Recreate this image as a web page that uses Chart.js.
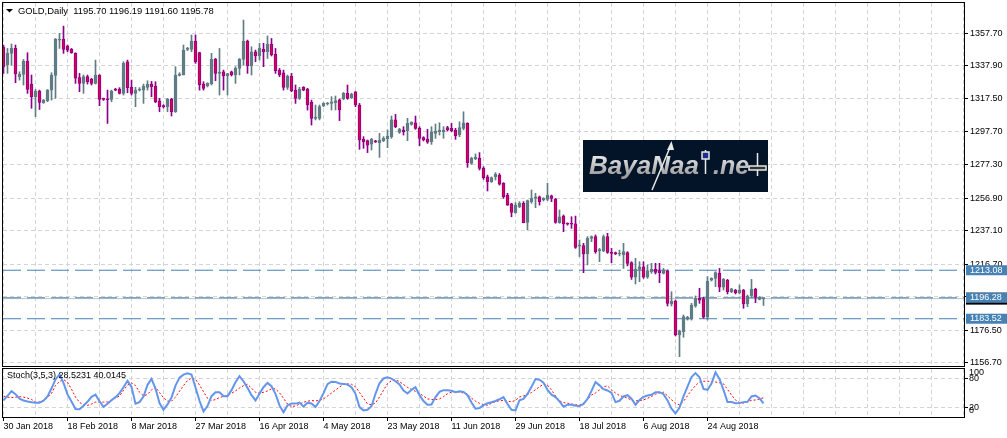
<!DOCTYPE html>
<html lang="en">

<head>
    <meta charset="UTF-8">
    <script src="https://cdn.jsdelivr.net/npm/chart.js"></script>
    <title>GOLD, Daily</title>
    <style>
        body {
            margin: 0;
            background: #fff;
        }

        .wrap {
            position: relative;
            width: 1007px;
            height: 438px;
        }

        #mainBox {
            position: absolute;
            left: 0;
            top: 0;
        }

        #stochBox {
            position: absolute;
            left: 0;
            top: 367px;
        }
    </style>
</head>

<body>
    <div class="wrap">
        <div id="mainBox"><canvas id="mainChart" width="1007" height="368"></canvas></div>
        <div id="stochBox"><canvas id="stochChart" width="1007" height="71"></canvas></div>
    </div>
    <script>
        // daily bars, first one is 30 Jan 2018
        const open = [
            1348.9, 1338.2, 1345.3, 1348.3, 1331.1, 1332.5, 1340.6, 1326.6, 1318.9, 1322.3,
            1315.2, 1316.4, 1322.9, 1331.9, 1353.4, 1354.0, 1349.8, 1347.7, 1345.3, 1330.5,
            1327.0, 1331.1, 1329.6, 1327.0, 1332.1, 1317.6, 1317.4, 1317.2, 1323.5, 1323.5,
            1320.9, 1340.2, 1324.6, 1320.9, 1322.9, 1322.9, 1324.6, 1326.6, 1325.4, 1316.4,
            1313.4, 1312.8, 1317.2, 1309.7, 1331.9, 1332.1, 1347.7, 1347.7, 1352.8, 1345.7,
            1326.6, 1325.4, 1326.6, 1341.8, 1333.1, 1334.1, 1331.5, 1334.1, 1332.1, 1336.1,
            1341.6, 1352.8, 1337.6, 1346.3, 1343.7, 1347.7, 1346.3, 1350.8, 1344.7, 1335.1,
            1333.5, 1324.6, 1331.5, 1322.9, 1317.9, 1324.6, 1323.5, 1315.4, 1305.7, 1305.7,
            1313.2, 1314.4, 1314.8, 1315.2, 1316.9, 1317.5, 1320.9, 1318.3, 1321.9, 1313.8,
            1292.9, 1292.1, 1290.0, 1291.7, 1290.9, 1292.1, 1293.3, 1294.5, 1304.7, 1297.1,
            1298.6, 1298.2, 1302.0, 1303.0, 1299.6, 1293.9, 1293.1, 1291.5, 1296.5, 1297.5,
            1297.5, 1300.0, 1299.6, 1298.6, 1295.5, 1299.6, 1302.6, 1278.2, 1281.1, 1281.3,
            1275.2, 1270.1, 1267.1, 1270.1, 1271.1, 1266.1, 1258.9, 1253.5, 1248.2, 1251.8,
            1253.9, 1242.3, 1254.9, 1256.9, 1257.9, 1255.9, 1256.3, 1258.5, 1256.5, 1242.1,
            1246.1, 1241.6, 1241.5, 1241.3, 1227.8, 1228.1, 1223.0, 1232.5, 1233.6, 1225.0,
            1225.0, 1233.6, 1224.0, 1223.8, 1223.0, 1222.4, 1223.8, 1217.7, 1208.8, 1213.6,
            1215.2, 1208.8, 1212.2, 1213.6, 1212.8, 1211.2, 1212.6, 1192.5, 1194.3, 1173.6,
            1175.6, 1183.2, 1183.4, 1191.3, 1196.0, 1195.6, 1184.4, 1207.1, 1208.1, 1211.2,
            1202.7, 1207.1, 1200.0, 1201.0, 1199.4, 1201.0, 1192.5, 1197.4, 1201.4, 1195.3,
            1195.70
        ];
        const high = [
            1350.4, 1348.3, 1351.0, 1350.4, 1334.1, 1341.6, 1345.7, 1332.1, 1323.3, 1322.9,
            1317.2, 1323.3, 1333.5, 1354.4, 1357.5, 1361.9, 1350.4, 1348.3, 1345.7, 1333.1,
            1332.1, 1332.1, 1330.1, 1341.2, 1332.3, 1318.0, 1322.9, 1322.9, 1324.0, 1324.4,
            1340.2, 1341.2, 1329.0, 1324.6, 1324.4, 1326.6, 1328.6, 1328.2, 1328.0, 1317.9,
            1314.0, 1317.9, 1317.9, 1337.2, 1333.5, 1350.4, 1349.0, 1356.5, 1356.5, 1346.0,
            1328.0, 1327.4, 1345.3, 1342.2, 1348.3, 1335.1, 1333.1, 1334.5, 1337.2, 1342.2,
            1365.6, 1353.4, 1349.3, 1347.3, 1351.4, 1351.4, 1355.9, 1354.4, 1348.3, 1336.1,
            1335.1, 1332.1, 1333.1, 1326.0, 1324.6, 1325.0, 1324.0, 1316.8, 1313.8, 1313.8,
            1315.2, 1315.4, 1318.9, 1319.3, 1317.5, 1321.5, 1326.0, 1321.0, 1322.0, 1314.8,
            1294.5, 1292.5, 1293.5, 1292.3, 1296.5, 1294.5, 1298.6, 1307.1, 1308.1, 1299.6,
            1300.6, 1305.7, 1303.6, 1307.1, 1300.6, 1294.5, 1299.0, 1300.6, 1302.2, 1303.0,
            1300.6, 1300.8, 1302.6, 1299.6, 1303.6, 1309.7, 1303.0, 1282.0, 1284.0, 1284.8,
            1276.2, 1271.1, 1270.0, 1272.6, 1272.0, 1266.5, 1260.0, 1253.9, 1254.3, 1254.9,
            1254.9, 1255.9, 1262.0, 1260.0, 1258.3, 1257.3, 1266.1, 1258.9, 1256.9, 1249.8,
            1246.8, 1242.0, 1245.7, 1246.1, 1231.5, 1229.5, 1233.6, 1234.0, 1234.6, 1226.4,
            1234.6, 1235.6, 1226.4, 1224.2, 1225.4, 1229.5, 1224.4, 1218.3, 1220.3, 1218.3,
            1218.3, 1216.3, 1217.3, 1217.3, 1217.3, 1214.2, 1213.2, 1200.0, 1194.9, 1176.6,
            1185.8, 1185.0, 1192.9, 1197.4, 1202.1, 1196.6, 1209.2, 1208.5, 1212.2, 1214.2,
            1208.1, 1207.5, 1202.1, 1201.4, 1204.1, 1201.4, 1198.0, 1207.5, 1202.1, 1197.0,
            1196.19
        ];
        const low = [
            1333.1, 1333.1, 1338.2, 1327.4, 1329.0, 1326.0, 1320.9, 1311.8, 1306.7, 1311.1,
            1314.8, 1315.8, 1316.8, 1317.9, 1348.3, 1345.3, 1346.3, 1345.3, 1327.0, 1321.9,
            1320.9, 1326.6, 1326.0, 1326.6, 1313.4, 1316.6, 1302.6, 1315.8, 1322.5, 1320.5,
            1319.9, 1321.3, 1319.9, 1312.8, 1322.3, 1314.8, 1322.9, 1318.9, 1315.2, 1309.7,
            1312.0, 1309.7, 1307.1, 1309.3, 1331.5, 1332.1, 1347.0, 1346.3, 1339.2, 1322.9,
            1322.9, 1324.8, 1326.0, 1328.6, 1319.9, 1322.9, 1319.9, 1331.5, 1327.0, 1332.1,
            1338.2, 1333.1, 1332.1, 1340.2, 1341.2, 1337.2, 1342.2, 1343.7, 1333.1, 1331.1,
            1322.9, 1323.3, 1321.9, 1314.8, 1317.2, 1322.5, 1310.7, 1301.6, 1304.7, 1304.7,
            1312.8, 1313.8, 1310.8, 1310.8, 1304.3, 1317.0, 1317.3, 1317.8, 1312.8, 1286.8,
            1287.4, 1284.8, 1286.4, 1290.9, 1281.9, 1291.5, 1287.8, 1293.5, 1300.0, 1296.5,
            1295.5, 1292.1, 1301.5, 1299.0, 1289.0, 1291.9, 1290.4, 1289.8, 1293.5, 1295.5,
            1293.5, 1298.0, 1297.5, 1292.9, 1294.5, 1298.6, 1275.8, 1277.6, 1280.5, 1274.2,
            1268.5, 1261.4, 1266.6, 1268.1, 1265.0, 1256.9, 1252.6, 1245.7, 1247.8, 1251.2,
            1242.0, 1237.6, 1253.9, 1251.2, 1252.8, 1255.3, 1255.5, 1254.9, 1241.7, 1241.7,
            1236.6, 1240.6, 1238.6, 1226.4, 1221.4, 1211.6, 1216.3, 1230.5, 1223.4, 1218.3,
            1224.4, 1223.4, 1217.7, 1222.6, 1221.8, 1214.2, 1215.7, 1207.5, 1204.7, 1206.1,
            1208.1, 1208.1, 1211.2, 1210.8, 1205.5, 1210.8, 1191.3, 1191.3, 1173.0, 1160.4,
            1172.2, 1182.7, 1182.7, 1190.5, 1192.9, 1183.8, 1182.7, 1206.5, 1203.1, 1200.0,
            1201.0, 1198.6, 1199.4, 1198.6, 1198.6, 1189.9, 1190.9, 1196.6, 1193.3, 1195.0,
            1191.60
        ];
        const close = [
            1337.0, 1345.3, 1348.3, 1332.7, 1332.7, 1340.6, 1323.3, 1318.9, 1322.3, 1315.4,
            1316.8, 1322.9, 1332.1, 1354.0, 1354.0, 1347.7, 1347.3, 1345.7, 1330.1, 1327.0,
            1331.1, 1328.0, 1327.0, 1332.1, 1317.2, 1317.2, 1317.0, 1322.3, 1322.9, 1320.9,
            1339.2, 1324.4, 1320.9, 1322.9, 1323.5, 1325.4, 1326.6, 1325.0, 1315.8, 1312.8,
            1312.8, 1317.2, 1309.7, 1332.1, 1332.7, 1347.3, 1348.3, 1352.8, 1340.2, 1326.0,
            1324.0, 1327.0, 1341.6, 1333.1, 1333.9, 1331.5, 1332.9, 1332.1, 1336.1, 1341.6,
            1352.8, 1337.8, 1346.3, 1343.7, 1348.3, 1346.3, 1350.8, 1344.3, 1334.7, 1332.1,
            1324.6, 1331.5, 1322.5, 1317.9, 1323.5, 1322.9, 1313.8, 1305.7, 1306.3, 1312.8,
            1314.8, 1314.8, 1315.8, 1316.5, 1310.8, 1320.9, 1317.9, 1320.3, 1313.8, 1292.5,
            1291.5, 1289.4, 1292.9, 1291.3, 1292.5, 1293.5, 1294.9, 1304.7, 1300.6, 1299.0,
            1297.5, 1302.6, 1303.2, 1299.6, 1293.5, 1292.5, 1291.1, 1297.5, 1297.9, 1298.6,
            1298.6, 1298.6, 1298.2, 1295.1, 1300.0, 1303.0, 1278.7, 1281.3, 1281.9, 1275.2,
            1269.5, 1267.1, 1269.5, 1271.5, 1265.6, 1257.9, 1252.8, 1248.4, 1252.8, 1253.9,
            1242.1, 1255.5, 1256.9, 1257.9, 1254.9, 1256.9, 1258.9, 1256.9, 1242.3, 1245.7,
            1241.3, 1241.1, 1241.1, 1227.0, 1228.5, 1223.0, 1232.5, 1233.6, 1224.4, 1225.4,
            1233.6, 1224.0, 1223.4, 1223.0, 1223.4, 1224.4, 1217.3, 1208.8, 1213.6, 1215.2,
            1208.8, 1212.8, 1213.6, 1211.8, 1211.6, 1213.2, 1192.9, 1194.3, 1173.6, 1176.2,
            1184.8, 1184.4, 1191.9, 1196.0, 1194.9, 1184.4, 1206.5, 1208.1, 1211.6, 1202.7,
            1207.5, 1200.0, 1201.7, 1199.4, 1201.0, 1192.5, 1197.4, 1201.4, 1196.6, 1196.6,
            1195.78
        ];

        // Stoch(3,5,3): main (%K) and signal (%D)
        const stochMain = [
            34.7, 44.1, 53.8, 47.6, 38.2, 34.5, 32.4, 30.7, 29.7, 29.9,
            33.8, 42.8, 59.3, 78.2, 88.6, 71.0, 47.0, 32.4, 16.5, 16.1,
            23.5, 31.7, 42.1, 46.5, 32.8, 21.4, 27.6, 34.8, 41.4, 49.7,
            62.1, 75.2, 62.8, 27.6, 31.0, 42.8, 66.9, 79.3, 59.3, 29.0,
            15.2, 26.2, 40.7, 65.5, 82.1, 88.3, 91.0, 88.6, 61.4, 33.8,
            11.7, 22.8, 43.4, 51.7, 51.7, 43.4, 43.4, 55.9, 72.4, 84.8,
            74.5, 60.7, 45.5, 34.5, 48.3, 62.1, 71.0, 64.1, 48.3, 24.2,
            10.0, 24.2, 28.3, 27.9, 30.0, 21.7, 29.7, 28.3, 20.7, 33.1,
            49.7, 68.3, 73.5, 73.1, 69.7, 69.0, 67.6, 62.1, 48.3, 20.7,
            13.8, 15.2, 22.4, 48.3, 70.3, 80.2, 82.5, 80.0, 74.5, 67.6,
            55.2, 49.0, 56.6, 62.1, 45.5, 33.1, 25.5, 26.2, 41.4, 52.4,
            55.9, 55.9, 54.5, 51.7, 53.4, 52.4, 45.5, 30.3, 17.2, 18.6,
            24.8, 28.6, 30.7, 33.3, 36.9, 41.4, 26.9, 14.9, 13.8, 35.0,
            37.7, 48.1, 62.8, 78.9, 77.6, 71.7, 56.6, 46.4, 41.4, 32.6,
            21.6, 25.7, 25.7, 23.5, 22.8, 27.2, 37.7, 54.3, 72.8, 65.9,
            57.9, 55.2, 50.3, 31.0, 33.8, 42.8, 45.5, 38.2, 25.5, 35.4,
            42.1, 44.8, 46.2, 51.7, 51.7, 47.6, 34.5, 17.2, 7.7, 19.0,
            42.8, 63.4, 83.4, 91.5, 82.8, 58.6, 56.6, 69.7, 93.1, 79.3,
            56.6, 31.0, 31.0, 28.8, 29.2, 31.0, 31.7, 42.8, 44.8, 39.0,
            28.52
        ];
        const stochSignal = [
            43.4, 41.4, 40.3, 41.4, 42.5, 41.3, 39.4, 36.6, 31.2, 30.9,
            34.2, 40.2, 49.0, 65.5, 73.8, 77.9, 72.4, 57.9, 41.4, 30.8,
            24.8, 24.2, 26.9, 31.0, 31.0, 31.0, 31.4, 35.5, 39.7, 43.8,
            55.2, 66.2, 71.0, 65.5, 51.7, 44.1, 46.9, 56.6, 62.1, 51.0,
            40.0, 33.1, 33.1, 41.4, 53.8, 65.5, 75.9, 81.2, 78.2, 66.7,
            52.9, 39.1, 34.5, 36.2, 40.4, 42.9, 45.2, 49.3, 54.3, 60.5,
            65.2, 68.3, 60.0, 51.7, 49.5, 51.5, 54.3, 58.8, 58.6, 50.3,
            39.0, 27.1, 21.6, 23.0, 26.6, 30.7, 32.9, 34.3, 33.4, 34.8,
            37.7, 43.6, 49.8, 56.0, 62.2, 68.4, 69.0, 68.2, 62.8, 51.2,
            39.0, 27.4, 25.3, 29.3, 41.7, 55.7, 69.5, 75.7, 77.6, 73.5,
            67.7, 61.7, 57.6, 53.4, 49.3, 43.6, 37.8, 36.6, 36.4, 37.6,
            42.5, 48.6, 51.9, 53.2, 52.0, 50.1, 47.6, 39.3, 32.8, 28.6,
            26.0, 24.5, 28.6, 31.9, 33.9, 34.6, 33.0, 31.7, 34.5, 41.7,
            43.8, 46.9, 51.0, 56.9, 63.0, 68.5, 66.4, 56.3, 43.9, 33.6,
            30.1, 28.8, 27.2, 25.7, 24.4, 28.3, 36.6, 45.9, 50.0, 56.6,
            63.0, 64.8, 56.6, 50.0, 44.5, 42.4, 39.3, 35.2, 33.6, 34.1,
            35.7, 38.9, 42.6, 47.6, 50.3, 51.6, 44.1, 35.9, 28.8, 25.3,
            32.5, 44.2, 55.7, 65.5, 72.7, 74.4, 74.5, 74.1, 72.9, 71.2,
            69.1, 57.6, 45.7, 35.3, 30.3, 29.0, 32.0, 34.7, 35.5, 37.3,
            40.01
        ];

        // one label every 16 bars, starting at bar 0
        const dateLabels = ["30 Jan 2018", "18 Feb 2018", "8 Mar 2018", "27 Mar 2018", "16 Apr 2018", "4 May 2018",
            "23 May 2018", "11 Jun 2018", "29 Jun 2018", "18 Jul 2018", "6 Aug 2018", "24 Aug 2018"];
        const priceTicks = [1357.70, 1337.90, 1317.50, 1297.70, 1277.30, 1256.90, 1237.10, 1216.70, 1196.90, 1176.50, 1156.70];
        const levels = [1213.08, 1196.28, 1183.52];
        const bid = 1195.78;
        const stochLevels = [100, 80, 20, 0];
        const title = "GOLD,Daily  1195.70 1196.19 1191.60 1195.78";
        const stochTitle = "Stoch(3,5,3) 28.5231 40.0145";

        const X_MIN = -0.125, X_MAX = 240.125;
        const BULL = "#5f7d83", BEAR_EDGE = "#8b008b", BEAR_FILL = "#dc0050";
        const GRID = "#d4d4d4", LEVEL = "#4682b4";
        const FONT = "Liberation Sans";

        Chart.defaults.font.family = FONT;
        Chart.defaults.font.size = 9;
        Chart.defaults.color = "#000";

        const bars = open.map((_, i) => i);
        const up = (i) => close[i] >= open[i];
        const gridSteps = Array.from({ length: 31 }, (_, k) => k * 8);

        const noPad = (scale) => {
            scale.paddingTop = 0;
            scale.paddingBottom = 0;
            scale.paddingLeft = 0;
            scale.paddingRight = 0;
        };

        const mainPanel = {
            id: "mainPanel",
            afterDraw(chart) {
                const { ctx, chartArea: a, scales: { y } } = chart;
                ctx.save();
                ctx.strokeStyle = "#000";
                ctx.lineWidth = 1;
                ctx.strokeRect(a.left - 0.5, a.top - 0.5, a.right - a.left + 1, a.bottom - a.top + 1);

                // title
                ctx.fillStyle = "#000";
                ctx.beginPath();
                ctx.moveTo(6, 9);
                ctx.lineTo(13, 9);
                ctx.lineTo(9.5, 12.5);
                ctx.closePath();
                ctx.fill();
                ctx.font = `9.4px "${FONT}"`;
                ctx.textBaseline = "middle";
                ctx.fillText(title, 18, 11);

                // logo
                ctx.fillStyle = "#031429";
                ctx.fillRect(583, 140, 185, 52);
                const g = ctx.createLinearGradient(0, 152, 0, 176);
                g.addColorStop(0, "#f4f4f4");
                g.addColorStop(1, "#9c9c9c");
                ctx.fillStyle = g;
                ctx.font = `italic bold 26px "${FONT}"`;
                ctx.textBaseline = "alphabetic";
                ctx.fillText("BayaNaa", 589, 174);
                ctx.font = `italic bold 25px "${FONT}"`;
                ctx.fillText(".ne", 713, 174);
                ctx.strokeStyle = "#e8e8e8";
                ctx.lineWidth = 1.5;
                ctx.beginPath();
                ctx.moveTo(705.5, 150);
                ctx.lineTo(705.5, 174);
                ctx.moveTo(757.5, 153);
                ctx.lineTo(757.5, 176);
                ctx.moveTo(652, 190);
                ctx.lineTo(671, 145);
                ctx.stroke();
                ctx.fillStyle = "#e8e8e8";
                ctx.beginPath();
                ctx.moveTo(671.5, 141);
                ctx.lineTo(667, 150);
                ctx.lineTo(674, 150);
                ctx.closePath();
                ctx.fill();
                ctx.fillStyle = "#1c2f8c";
                ctx.fillRect(702, 152, 7, 7);
                ctx.strokeRect(702, 152, 7, 7);
                ctx.fillStyle = "#333";
                ctx.fillRect(749, 166, 17, 4);
                ctx.strokeRect(749, 166, 17, 4);

                // price boxes on the axis
                const by = y.getPixelForValue(bid);
                ctx.fillStyle = "#000";
                ctx.fillRect(966, by - 6, 41, 12);
                ctx.font = `9px "${FONT}"`;
                ctx.textBaseline = "middle";
                levels.forEach((v) => {
                    const py = y.getPixelForValue(v);
                    ctx.fillStyle = LEVEL;
                    ctx.fillRect(966, py - 5, 41, 10);
                    ctx.fillStyle = "#fff";
                    ctx.fillText(v.toFixed(2), 970, py);
                });
                ctx.restore();
            }
        };

        const stochPanel = {
            id: "stochPanel",
            afterDraw(chart) {
                const { ctx, chartArea: a, scales: { y } } = chart;
                ctx.save();
                ctx.strokeStyle = "#000";
                ctx.lineWidth = 1;
                ctx.strokeRect(a.left - 0.5, a.top - 0.5, a.right - a.left + 1, a.bottom - a.top + 1);
                ctx.fillStyle = "#000";
                ctx.font = `9px "${FONT}"`;
                ctx.textBaseline = "middle";
                ctx.fillText(stochTitle, 7, 9);
                stochLevels.forEach((v) => {
                    let py = y.getPixelForValue(v);
                    py = Math.min(Math.max(py, a.top + 4), a.bottom - 6);
                    ctx.fillText(String(v), 969, py);
                });
                ctx.restore();
            }
        };

        const xCommon = {
            type: "linear",
            min: X_MIN,
            max: X_MAX,
            offset: false,
            afterBuildTicks: (scale) => { scale.ticks = gridSteps.map((v) => ({ value: v })); }
        };

        new Chart(document.getElementById("mainChart"), {
            type: "bar",
            data: {
                datasets: [
                    ...levels.map((v) => ({
                        type: "line",
                        data: [{ x: X_MIN, y: v }, { x: X_MAX, y: v }],
                        borderColor: LEVEL,
                        borderWidth: 1,
                        borderDash: [18, 6],
                        pointRadius: 0,
                        order: 4
                    })),
                    {
                        type: "line",
                        data: [{ x: X_MIN, y: bid }, { x: X_MAX, y: bid }],
                        borderColor: "#c0c0c0",
                        borderWidth: 1,
                        pointRadius: 0,
                        order: 5
                    },
                    {
                        label: "wick",
                        data: bars.map((i) => ({ x: i, y: [low[i], high[i]] })),
                        grouped: false,
                        barThickness: 1,
                        backgroundColor: bars.map((i) => up(i) ? BULL : BEAR_EDGE),
                        borderWidth: 0,
                        order: 2
                    },
                    {
                        label: "body",
                        data: bars.map((i) => ({ x: i, y: [open[i], close[i]] })),
                        grouped: false,
                        barThickness: 3,
                        minBarLength: 1,
                        backgroundColor: bars.map((i) => up(i) ? BULL : BEAR_FILL),
                        borderColor: bars.map((i) => up(i) ? BULL : BEAR_EDGE),
                        borderWidth: 1,
                        borderSkipped: false,
                        order: 1
                    }
                ]
            },
            options: {
                responsive: false,
                animation: false,
                devicePixelRatio: 1,
                events: [],
                layout: { padding: { left: 3, top: 3, right: 0, bottom: 2 } },
                plugins: { legend: { display: false }, tooltip: { enabled: false } },
                scales: {
                    x: {
                        ...xCommon,
                        grid: { color: GRID, offset: false, drawTicks: false },
                        border: { display: false, dash: [4, 3] },
                        ticks: { display: false },
                        afterFit: (scale) => { scale.height = 0; noPad(scale); }
                    },
                    y: {
                        position: "right",
                        min: 1154.7,
                        max: 1376.0,
                        afterBuildTicks: (scale) => {
                            scale.ticks = [...priceTicks].sort((a, b) => a - b).map((v) => ({ value: v }));
                        },
                        grid: { color: GRID, tickColor: "#000", tickLength: 4, tickBorderDash: [] },
                        border: { display: false, dash: [4, 3] },
                        ticks: { padding: 2, callback: (v) => Number(v).toFixed(2) },
                        afterFit: (scale) => { scale.width = 43; noPad(scale); }
                    }
                }
            },
            plugins: [mainPanel]
        });

        const labelled = (index) => index % 2 === 0 && index / 2 < dateLabels.length;

        new Chart(document.getElementById("stochChart"), {
            type: "line",
            data: {
                datasets: [
                    {
                        data: bars.map((i) => ({ x: i, y: stochMain[i] })),
                        borderColor: "#6495ed",
                        borderWidth: 2,
                        pointRadius: 0,
                        order: 1
                    },
                    {
                        data: bars.map((i) => ({ x: i, y: stochSignal[i] })),
                        borderColor: "#ff0000",
                        borderWidth: 1,
                        borderDash: [2, 2],
                        pointRadius: 0,
                        order: 2
                    }
                ]
            },
            options: {
                responsive: false,
                animation: false,
                devicePixelRatio: 1,
                events: [],
                layout: { padding: { left: 3, top: 2, right: 0, bottom: 0 } },
                plugins: { legend: { display: false }, tooltip: { enabled: false } },
                scales: {
                    x: {
                        ...xCommon,
                        grid: {
                            color: GRID,
                            offset: false,
                            tickLength: 4,
                            tickBorderDash: [],
                            tickColor: (ctx) => labelled(ctx.index) ? "#000" : "rgba(0,0,0,0)"
                        },
                        border: { display: false, dash: [4, 3] },
                        ticks: {
                            align: "start",
                            autoSkip: false,
                            maxRotation: 0,
                            minRotation: 0,
                            padding: 0,
                            callback: (v, index) => labelled(index) ? dateLabels[index / 2] : ""
                        },
                        afterFit: (scale) => { scale.height = 21; noPad(scale); }
                    },
                    y: {
                        position: "right",
                        min: 0,
                        max: 100,
                        afterBuildTicks: (scale) => { scale.ticks = [{ value: 20 }, { value: 80 }]; },
                        grid: { color: GRID, tickColor: "#000", tickLength: 4, tickBorderDash: [] },
                        border: { display: false, dash: [4, 3] },
                        ticks: { display: false },
                        afterFit: (scale) => { scale.width = 43; noPad(scale); }
                    }
                }
            },
            plugins: [stochPanel]
        });
    </script>
</body>

</html>
